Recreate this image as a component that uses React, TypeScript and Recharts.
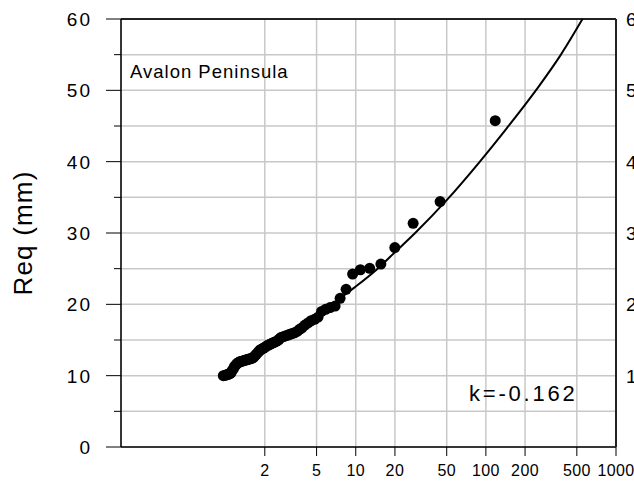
import React from 'react';
import {
  ComposedChart, Line, Scatter, XAxis, YAxis, CartesianGrid, ReferenceLine,
} from 'recharts';

const FONT = '"Liberation Sans", Arial, Helvetica, sans-serif';

// observed maxima, plotted at their return period
const obsT = [
  0.96, 0.99, 1.01, 1.03, 1.05, 1.08, 1.10, 1.12, 1.15, 1.17, 1.20, 1.22, 1.25, 1.27, 1.30,
  1.33, 1.36, 1.39, 1.42, 1.45, 1.48, 1.51, 1.55, 1.58, 1.61, 1.65, 1.68, 1.72, 1.76, 1.80,
  1.84, 1.88, 1.93, 1.97, 2.02, 2.08, 2.14, 2.19, 2.25, 2.31, 2.38, 2.44, 2.51, 2.57, 2.64,
  2.71, 2.81, 2.91, 3.02, 3.12, 3.24, 3.38, 3.54, 3.70, 3.86, 4.07, 4.30, 4.53, 4.82, 5.13,
  5.46, 5.86, 6.35, 6.94, 7.58, 8.43, 9.46, 10.85, 12.8, 15.6, 19.96, 27.6, 44.5, 118,
];
const obsReq = [
  10.0, 10.05, 10.1, 10.15, 10.2, 10.3, 10.4, 10.7, 11.0, 11.3, 11.5, 11.7, 11.8, 11.9, 12.0,
  12.0, 12.1, 12.1, 12.2, 12.2, 12.3, 12.3, 12.4, 12.4, 12.5, 12.6, 12.8, 13.0, 13.2, 13.4,
  13.6, 13.7, 13.8, 13.9, 14.0, 14.2, 14.3, 14.4, 14.5, 14.6, 14.7, 14.8, 14.9, 15.1, 15.3,
  15.4, 15.5, 15.6, 15.7, 15.8, 15.9, 16.0, 16.2, 16.5, 16.7, 17.1, 17.4, 17.7, 17.9, 18.2,
  19.0, 19.3, 19.55, 19.75, 20.85, 22.1, 24.25, 24.85, 25.05, 25.65, 27.95, 31.35, 34.4, 45.75,
];

// fitted curve (k = -0.162)
const fitT = [0.97, 1.5, 2, 3, 5, 7.6, 10, 14.5, 20, 28.6, 50, 88, 145, 247, 374, 553];
const fitReq = [10.1, 12.2, 13.6, 15.6, 18.4, 20.85, 22.5, 24.9, 27.3, 30.0, 34.6, 39.8, 44.7, 50.2, 54.9, 60.0];

const xTicks = [2, 5, 10, 20, 50, 100, 200, 500, 1000];
const yTicks = [0, 5, 10, 15, 20, 25, 30, 35, 40, 45, 50, 55, 60];

const observed = obsT.map((t, i) => ({ t, req: obsReq[i] }));
const fitted = fitT.map((t, i) => ({ t, req: fitReq[i] }));

const tickText = { fontFamily: FONT, fill: '#000', fontSize: 19, letterSpacing: 2 };

// left ticks; the same labels repeat past the right frame, where the picture cuts them
function LeftTick({ x, y, payload }: any) {
  const major = payload.value % 10 === 0;
  return (
    <g>
      <line x1={x - (major ? 15 : 7)} x2={x} y1={y} y2={y} stroke="#000" strokeWidth={1} />
      {major && (
        <text x={x - 29} y={y} dy="0.36em" textAnchor="end" {...tickText}>
          {payload.value}
        </text>
      )}
      {major && payload.value > 0 && (
        <text x={626} y={y} dy="0.36em" textAnchor="start" {...tickText}>
          {payload.value}
        </text>
      )}
    </g>
  );
}

function BottomTick({ x, y, payload }: any) {
  return (
    <g>
      <line x1={x} x2={x} y1={y} y2={y + 9} stroke="#000" strokeWidth={1} />
      <text x={x} y={y + 29} textAnchor="middle" fontFamily={FONT} fill="#000" fontSize={16} letterSpacing={0.4}>
        {payload.value}
      </text>
    </g>
  );
}

const dot = (p: any) => <circle cx={p.cx} cy={p.cy} r={5.5} fill="#000" />;

export default function App() {
  return (
    <div style={{ position: 'absolute', left: 0, top: 0, width: 634, height: 483, background: '#fff', overflow: 'hidden' }}>
      <ComposedChart width={634} height={483} margin={{ top: 19, right: 0, bottom: 0, left: 0 }} style={{ overflow: 'visible' }}>
        <CartesianGrid yAxisId="left" stroke="#c8c8c8" strokeWidth={1.5} />
        <XAxis
          dataKey="t" type="number" scale="log" domain={[0.157, 1000]} allowDataOverflow
          ticks={xTicks} interval={0} height={36} tickSize={0} tickMargin={0}
          tick={<BottomTick />} axisLine={{ stroke: '#000', strokeWidth: 1.5 }}
        />
        <YAxis
          yAxisId="left" dataKey="req" type="number" domain={[0, 60]} ticks={yTicks} interval={0}
          width={121} tickSize={0} tickMargin={0} tick={<LeftTick />}
          axisLine={{ stroke: '#000', strokeWidth: 1.5 }}
        />
        <YAxis
          yAxisId="right" orientation="right" type="number" domain={[0, 60]}
          width={18} tick={false} tickLine={false}
          axisLine={{ stroke: '#222', strokeWidth: 2 }}
        />
        <ReferenceLine yAxisId="left" y={60} stroke="#222" strokeWidth={2} />
        <Line
          yAxisId="left" data={fitted} dataKey="req" type="monotone" stroke="#000" strokeWidth={2}
          dot={false} isAnimationActive={false}
        />
        <Scatter yAxisId="left" data={observed} dataKey="req" shape={dot} isAnimationActive={false} />
      </ComposedChart>
      <div
        style={{
          position: 'absolute', left: 23, top: 233, transform: 'translate(-50%, -50%) rotate(-90deg)',
          fontFamily: FONT, fontSize: 26, letterSpacing: 1.2, lineHeight: 1, whiteSpace: 'nowrap',
        }}
      >
        Req (mm)
      </div>
      <div
        style={{
          position: 'absolute', left: 130, top: 62.6, fontFamily: FONT, fontSize: 18.5,
          letterSpacing: 1, lineHeight: 1, whiteSpace: 'nowrap',
        }}
      >
        Avalon Peninsula
      </div>
      <div
        style={{
          position: 'absolute', left: 469, top: 383, fontFamily: FONT, fontSize: 22,
          letterSpacing: 2.8, lineHeight: 1, whiteSpace: 'nowrap',
        }}
      >
        k=-0.162
      </div>
    </div>
  );
}
